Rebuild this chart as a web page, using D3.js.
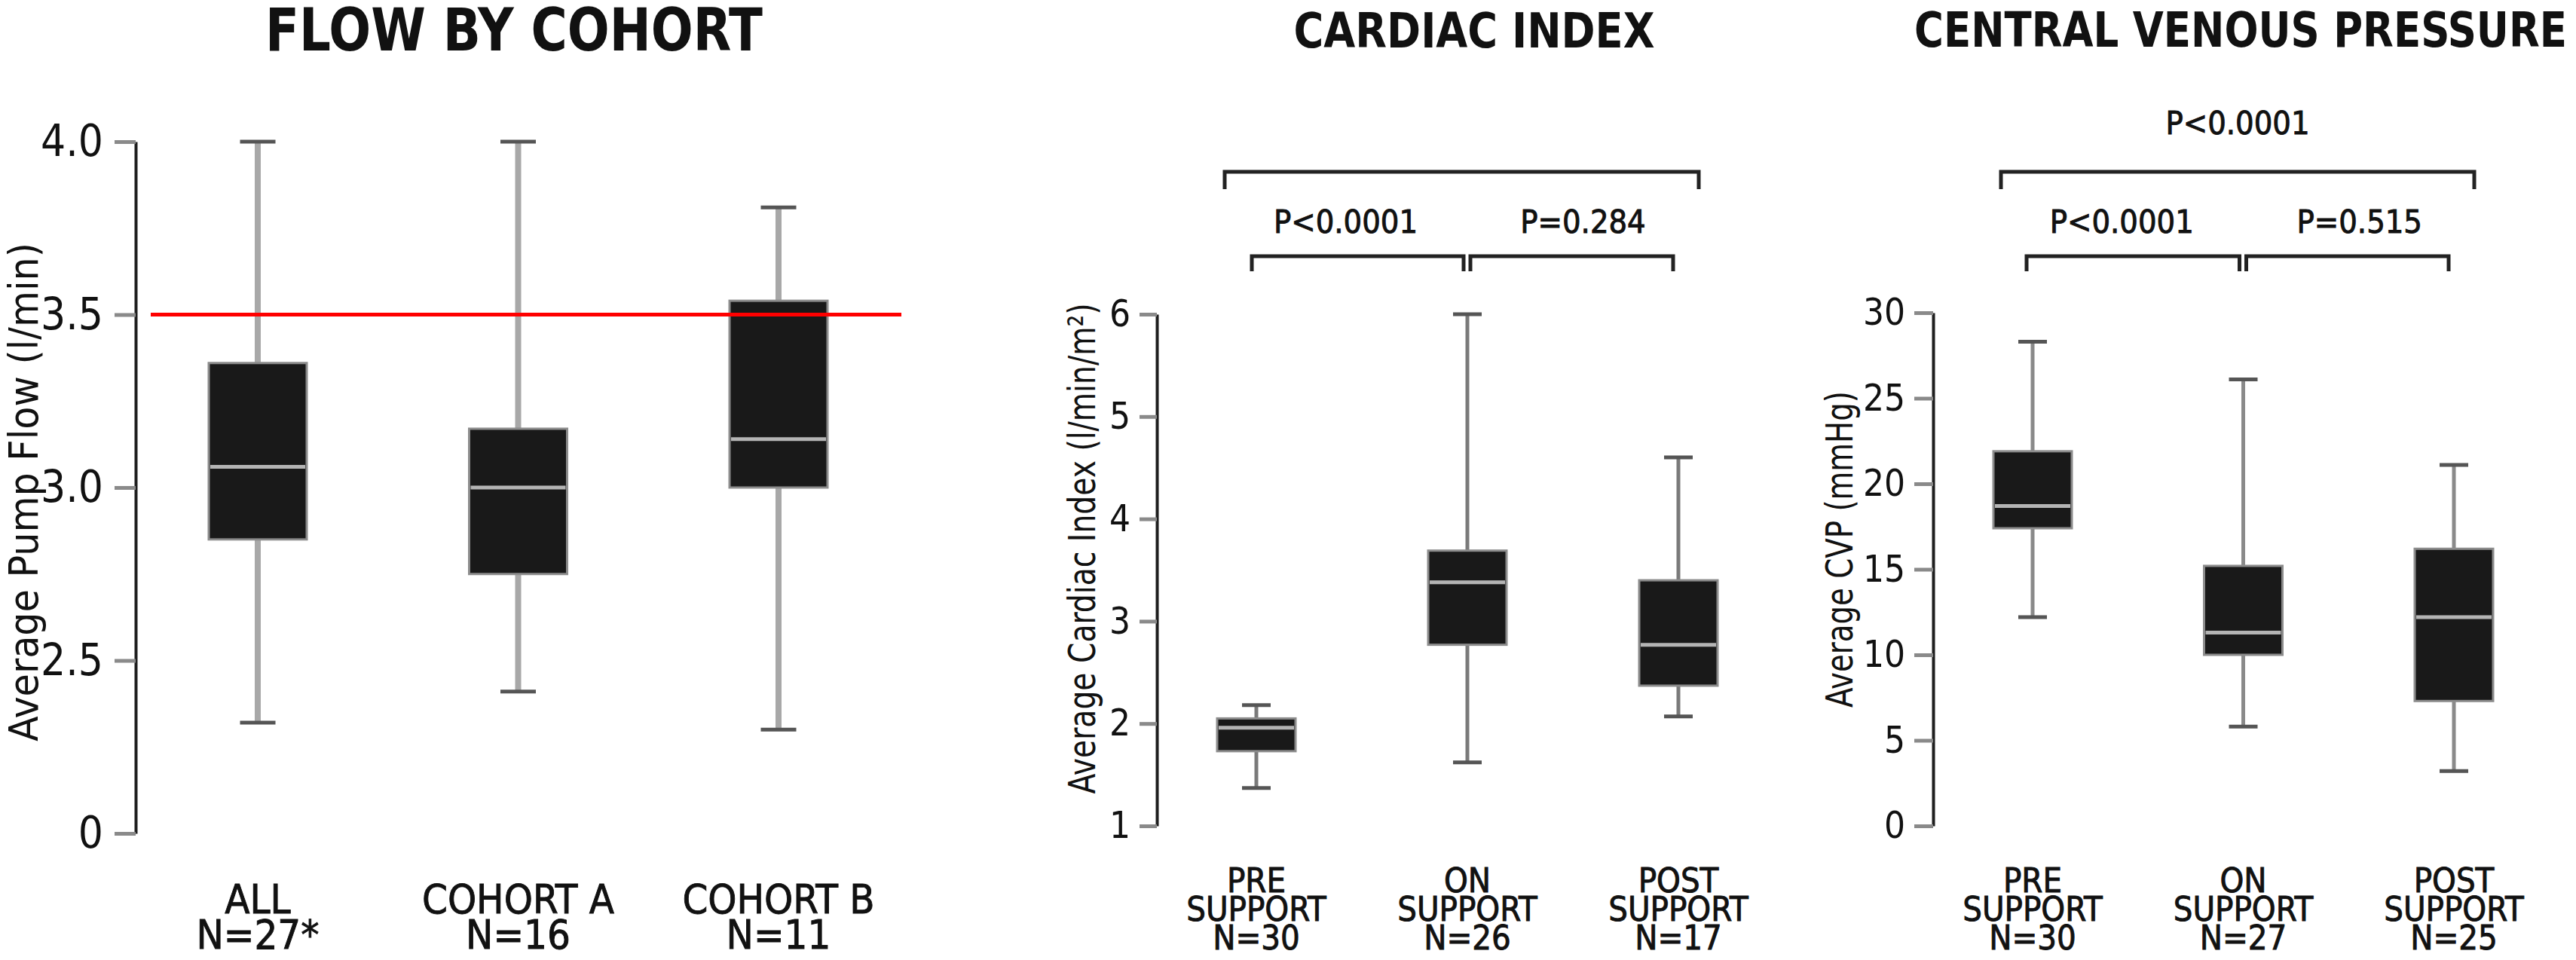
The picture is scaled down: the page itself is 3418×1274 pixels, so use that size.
<!DOCTYPE html>
<html>
<head>
<meta charset="utf-8">
<script src="https://cdn.jsdelivr.net/npm/d3@7"></script>
<style>
  body { margin: 0; background: #fff; }
  text { font-family: "Liberation Sans Narrow", "DejaVu Sans Condensed", "Liberation Sans", sans-serif; fill: #111; }
  .title { font-weight: bold; }
  .cat, .pval { stroke: #111; stroke-width: 0.9px; }
</style>
</head>
<body>
<div id="chart"></div>
<script>
// ---- data ----
const flowCats = ["ALL", "COHORT A", "COHORT B"];
const flowN = ["N=27*", "N=16", "N=11"];
const flowMin = [2.32, 2.41, 2.30];
const flowQ1 = [2.85, 2.75, 3.00];
const flowMedian = [3.06, 3.00, 3.14];
const flowQ3 = [3.36, 3.17, 3.54];
const flowMax = [4.00, 4.00, 3.81];
const flowTicks = [2, 2.5, 3, 3.5, 4];
const flowTickLabels = ["0", "2.5", "3.0", "3.5", "4.0"];
const flowTarget = 3.5;

const supportCats = ["PRE", "ON", "POST"];

const ciN = ["N=30", "N=26", "N=17"];
const ciMin = [1.37, 1.62, 2.07];
const ciQ1 = [1.73, 2.77, 2.37];
const ciMedian = [1.96, 3.38, 2.77];
const ciQ3 = [2.05, 3.69, 3.40];
const ciMax = [2.18, 6.00, 4.60];
const ciTicks = [1, 2, 3, 4, 5, 6];
const ciPvals = ["P<0.0001", "P=0.284"];

const cvpN = ["N=30", "N=27", "N=25"];
const cvpMin = [12.2, 5.8, 3.2];
const cvpQ1 = [17.4, 10.0, 7.3];
const cvpMedian = [18.7, 11.3, 12.2];
const cvpQ3 = [21.9, 15.2, 16.2];
const cvpMax = [28.3, 26.1, 21.1];
const cvpTicks = [0, 5, 10, 15, 20, 25, 30];
const cvpPvals = ["P<0.0001", "P=0.515", "P<0.0001"];

const W = 3418, H = 1274;
const svg = d3.select("#chart").append("svg")
  .attr("width", W)
  .attr("height", H);

function drawPanel(p) {
  const g = svg.append("g");

  const x = d3.scalePoint().domain(p.cats).range(p.xRange);
  const y = d3.scaleLinear().domain(p.domain).range(p.yRange);

  // title
  g.append("text")
    .attr("class", "title")
    .attr("x", p.titleX)
    .attr("y", p.titleY)
    .attr("text-anchor", "middle")
    .attr("textLength", p.titleLen)
    .attr("lengthAdjust", "spacingAndGlyphs")
    .style("font-size", p.titleSize + "px")
    .text(p.title);

  // y axis
  const axis = g.append("g")
    .attr("transform", `translate(${p.axisX},0)`)
    .call(d3.axisLeft(y)
      .tickValues(p.ticks)
      .tickFormat((d, i) => p.tickLabels[i])
      .tickSize(p.tickLen)
      .tickSizeOuter(0)
      .tickPadding(p.tickPad));
  axis.select(".domain").attr("stroke", "#1e1e1e").attr("stroke-width", 4);
  axis.selectAll(".tick line").attr("stroke", "#8a8a8a").attr("stroke-width", 5);
  axis.selectAll(".tick text")
    .style("font-size", p.tickSize + "px")
    .style("font-family", null)
    .attr("fill", "#111");

  // y axis label
  g.append("text")
    .attr("transform", `translate(${p.labelX},${p.labelY}) rotate(-90)`)
    .attr("text-anchor", "middle")
    .attr("textLength", p.labelLen)
    .attr("lengthAdjust", "spacingAndGlyphs")
    .style("font-size", p.labelSize + "px")
    .text(p.yLabel);

  const rows = p.cats.map((c, i) => ({
    cat: c, min: p.min[i], q1: p.q1[i], med: p.median[i], q3: p.q3[i], max: p.max[i]
  }));

  // whiskers
  g.selectAll(".whisker")
    .data(rows)
    .join("line")
      .attr("x1", d => x(d.cat))
      .attr("x2", d => x(d.cat))
      .attr("y1", d => y(d.min))
      .attr("y2", d => y(d.max))
      .attr("stroke", p.whiskerColor)
      .attr("stroke-width", p.whiskerW);

  ["min", "max"].forEach(k => {
    g.selectAll(".cap-" + k)
      .data(rows)
      .join("line")
        .attr("x1", d => x(d.cat) - p.capW / 2)
        .attr("x2", d => x(d.cat) + p.capW / 2)
        .attr("y1", d => y(d[k]))
        .attr("y2", d => y(d[k]))
        .attr("stroke", "#555")
        .attr("stroke-width", 5);
  });

  // boxes
  g.selectAll(".box")
    .data(rows)
    .join("rect")
      .attr("x", d => x(d.cat) - p.boxW / 2)
      .attr("y", d => y(d.q3))
      .attr("width", p.boxW)
      .attr("height", d => y(d.q1) - y(d.q3))
      .attr("fill", "#191919")
      .attr("stroke", "#8c8c8c")
      .attr("stroke-width", 3);

  g.selectAll(".median")
    .data(rows)
    .join("line")
      .attr("x1", d => x(d.cat) - p.boxW / 2 + 2)
      .attr("x2", d => x(d.cat) + p.boxW / 2 - 2)
      .attr("y1", d => y(d.med))
      .attr("y2", d => y(d.med))
      .attr("stroke", "#b4b4b4")
      .attr("stroke-width", 5);

  if (p.target !== undefined) {
    g.append("line")
      .attr("x1", p.targetX[0])
      .attr("x2", p.targetX[1])
      .attr("y1", y(p.target))
      .attr("y2", y(p.target))
      .attr("stroke", "#ff0000")
      .attr("stroke-width", 5);
  }

  // category labels
  p.cats.forEach((c, i) => {
    const t = g.append("text")
      .attr("class", "cat")
      .attr("text-anchor", "middle")
      .style("font-size", p.catSize + "px");
    p.catLines[i].forEach((line, j) => {
      t.append("tspan")
        .attr("x", x(c))
        .attr("y", p.catY[j])
        .text(line);
    });
  });

  // significance brackets
  (p.brackets || []).forEach(b => {
    const x1 = x(p.cats[b.from]) + b.dx[0];
    const x2 = x(p.cats[b.to]) + b.dx[1];
    g.append("path")
      .attr("d", `M${x1},${b.y + b.leg}V${b.y}H${x2}V${b.y + b.leg}`)
      .attr("fill", "none")
      .attr("stroke", "#222")
      .attr("stroke-width", 5);
    if (b.label) {
      g.append("text")
        .attr("class", "pval")
        .attr("x", (x1 + x2) / 2 + b.textDx)
        .attr("y", b.textY)
        .attr("text-anchor", "middle")
        .style("font-size", p.pSize + "px")
        .text(b.label);
    }
  });
}

// Panel 1: flow by cohort
drawPanel({
  title: "FLOW BY COHORT", titleX: 682, titleY: 67, titleLen: 660, titleSize: 78,
  cats: flowCats, catLines: flowCats.map((c, i) => [c, flowN[i]]),
  min: flowMin, q1: flowQ1, median: flowMedian, q3: flowQ3, max: flowMax,
  domain: [2, 4], yRange: [1106, 188], xRange: [342, 1033],
  ticks: flowTicks, tickLabels: flowTickLabels,
  axisX: 180, tickLen: 28, tickPad: 15, tickSize: 58,
  yLabel: "Average Pump Flow (l/min)", labelX: 50, labelY: 653, labelLen: 662, labelSize: 54,
  boxW: 130, capW: 47, whiskerW: 8, whiskerColor: "#a8a8a8",
  catSize: 54, catY: [1212, 1259],
  target: flowTarget, targetX: [200, 1196]
});

// Panel 2: cardiac index
drawPanel({
  title: "CARDIAC INDEX", titleX: 1956, titleY: 63, titleLen: 479, titleSize: 64,
  cats: supportCats, catLines: supportCats.map((c, i) => [c, "SUPPORT", ciN[i]]),
  min: ciMin, q1: ciQ1, median: ciMedian, q3: ciQ3, max: ciMax,
  domain: [1, 6], yRange: [1096, 417], xRange: [1667, 2227],
  ticks: ciTicks, tickLabels: ciTicks.map(String),
  axisX: 1535, tickLen: 23, tickPad: 12, tickSize: 49,
  yLabel: "Average Cardiac Index (l/min/m²)", labelX: 1453, labelY: 728, labelLen: 651, labelSize: 50,
  boxW: 104, capW: 38, whiskerW: 5, whiskerColor: "#7a7a7a",
  catSize: 45, catY: [1184, 1222, 1260], pSize: 43,
  brackets: [
    { from: 0, to: 2, y: 228, leg: 23, dx: [-42, 27], label: "", textY: 0, textDx: 0 },
    { from: 0, to: 1, y: 340, leg: 20, dx: [-6, -5], label: ciPvals[0], textY: 309, textDx: -16 },
    { from: 1, to: 2, y: 340, leg: 20, dx: [4, -7], label: ciPvals[1], textY: 309, textDx: 15 }
  ]
});

// Panel 3: central venous pressure
drawPanel({
  title: "CENTRAL VENOUS PRESSURE", titleX: 2973, titleY: 62, titleLen: 866, titleSize: 64,
  cats: supportCats, catLines: supportCats.map((c, i) => [c, "SUPPORT", cvpN[i]]),
  min: cvpMin, q1: cvpQ1, median: cvpMedian, q3: cvpQ3, max: cvpMax,
  domain: [0, 30], yRange: [1096, 415], xRange: [2697, 3256],
  ticks: cvpTicks, tickLabels: cvpTicks.map(String),
  axisX: 2565, tickLen: 25, tickPad: 12, tickSize: 49,
  yLabel: "Average CVP (mmHg)", labelX: 2458, labelY: 729, labelLen: 420, labelSize: 50,
  boxW: 104, capW: 38, whiskerW: 5, whiskerColor: "#8a8a8a",
  catSize: 45, catY: [1184, 1222, 1260], pSize: 43,
  brackets: [
    { from: 0, to: 2, y: 228, leg: 23, dx: [-42, 27], label: cvpPvals[2], textY: 178, textDx: 0 },
    { from: 0, to: 1, y: 340, leg: 20, dx: [-8, -5], label: cvpPvals[0], textY: 309, textDx: -15 },
    { from: 1, to: 2, y: 340, leg: 20, dx: [4, -7], label: cvpPvals[1], textY: 309, textDx: 16 }
  ]
});
</script>
</body>
</html>
